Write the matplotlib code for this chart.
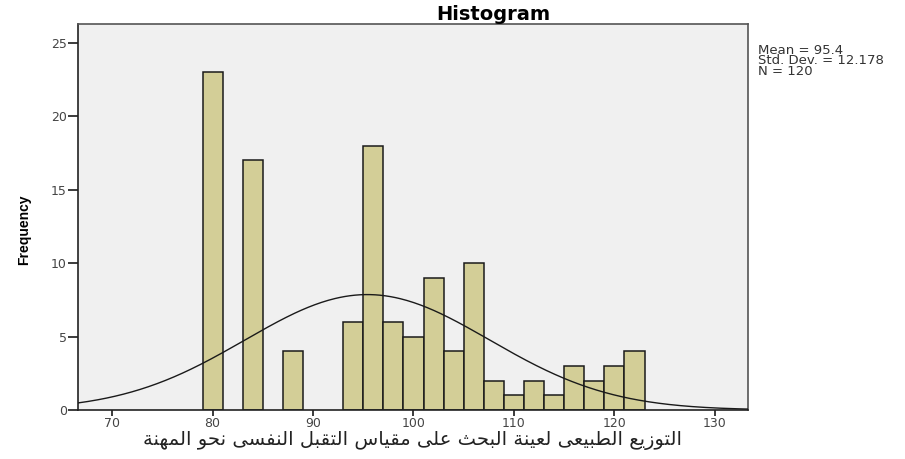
import numpy as np
import matplotlib
matplotlib.use("Agg")
import matplotlib.pyplot as plt

# histogram data
bin_left = [79, 83, 87, 93, 95, 97, 99, 101, 103, 105, 107, 109, 111, 113, 115, 117, 119, 121]
counts = [23, 17, 4, 6, 18, 6, 5, 9, 4, 10, 2, 1, 2, 1, 3, 2, 3, 4]
bin_width = 2
mean = 95.4
std = 12.178
n = 120
x_ticks = [70, 80, 90, 100, 110, 120, 130]
y_ticks = [0, 5, 10, 15, 20, 25]
x_label = "التوزيع الطبيعى لعينة البحث على مقياس التقبل النفسى نحو المهنة"

# simple arabic shaping (isolated, final, initial, medial)
forms = {
    "ا": (0xFE8D, 0xFE8E, None, None),
    "ب": (0xFE8F, 0xFE90, 0xFE91, 0xFE92),
    "ة": (0xFE93, 0xFE94, None, None),
    "ت": (0xFE95, 0xFE96, 0xFE97, 0xFE98),
    "ث": (0xFE99, 0xFE9A, 0xFE9B, 0xFE9C),
    "ح": (0xFEA1, 0xFEA2, 0xFEA3, 0xFEA4),
    "ز": (0xFEAF, 0xFEB0, None, None),
    "س": (0xFEB1, 0xFEB2, 0xFEB3, 0xFEB4),
    "ط": (0xFEC1, 0xFEC2, 0xFEC3, 0xFEC4),
    "ع": (0xFEC9, 0xFECA, 0xFECB, 0xFECC),
    "ف": (0xFED1, 0xFED2, 0xFED3, 0xFED4),
    "ق": (0xFED5, 0xFED6, 0xFED7, 0xFED8),
    "ل": (0xFEDD, 0xFEDE, 0xFEDF, 0xFEE0),
    "م": (0xFEE1, 0xFEE2, 0xFEE3, 0xFEE4),
    "ن": (0xFEE5, 0xFEE6, 0xFEE7, 0xFEE8),
    "ه": (0xFEE9, 0xFEEA, 0xFEEB, 0xFEEC),
    "و": (0xFEED, 0xFEEE, None, None),
    "ى": (0xFEEF, 0xFEF0, None, None),
    "ي": (0xFEF1, 0xFEF2, 0xFEF3, 0xFEF4),
}


def shape(text):
    out = []
    for i, ch in enumerate(text):
        if ch not in forms:
            out.append(ch)
            continue
        prev = text[i - 1] if i > 0 else " "
        nxt = text[i + 1] if i < len(text) - 1 else " "
        join_prev = prev in forms and forms[prev][2] is not None
        join_next = nxt in forms and forms[ch][2] is not None
        f = forms[ch]
        if join_prev and join_next:
            out.append(chr(f[3]))
        elif join_prev:
            out.append(chr(f[1]))
        elif join_next:
            out.append(chr(f[2]))
        else:
            out.append(chr(f[0]))
    return "".join(out)[::-1]


fig = plt.figure(figsize=(9.05, 4.59), dpi=100)
ax = fig.add_axes([0.0862, 0.1068, 0.7403, 0.841])
ax.set_facecolor("#f0f0f0")

ax.bar(bin_left, counts, width=bin_width, align="edge", color="#d3ce97",
       edgecolor="#1a1a1a", linewidth=1.1, zorder=2)

xs = np.linspace(66.6, 133.3, 400)
ys = n * bin_width * np.exp(-0.5 * ((xs - mean) / std) ** 2) / (std * np.sqrt(2 * np.pi))
ax.plot(xs, ys, color="#1a1a1a", linewidth=1.0, zorder=3)

ax.set_xlim(66.6, 133.3)
ax.set_ylim(0, 26.3)
ax.set_xticks(x_ticks)
ax.set_yticks(y_ticks)
ax.tick_params(direction="out", width=1.2, color="#1a1a1a",
               labelsize=9, labelcolor="#444444", pad=1)
ax.tick_params(axis="x", length=4)
ax.tick_params(axis="y", length=7)
for s in ax.spines.values():
    s.set_color("#555555")
    s.set_linewidth(1.2)
ax.spines["left"].set_color("#222222")
ax.spines["bottom"].set_color("#222222")

ax.set_xlabel(shape(x_label), fontsize=14, color="#222222", family=["DejaVu Sans"], labelpad=1)
fig.text(0.027, 0.5, "Frequency", rotation=90, ha="center", va="center",
         fontsize=10, fontweight="bold", family=["Liberation Sans", "DejaVu Sans"])
fig.text(0.545, 0.99, "Histogram", ha="center", va="top", fontsize=14, fontweight="bold")
fig.text(0.838, 0.905, "Mean = 95.4\nStd. Dev. = 12.178\nN = 120", ha="left", va="top",
         fontsize=9.5, linespacing=0.75, color="#333333")

fig.savefig("out.png", dpi=100)
